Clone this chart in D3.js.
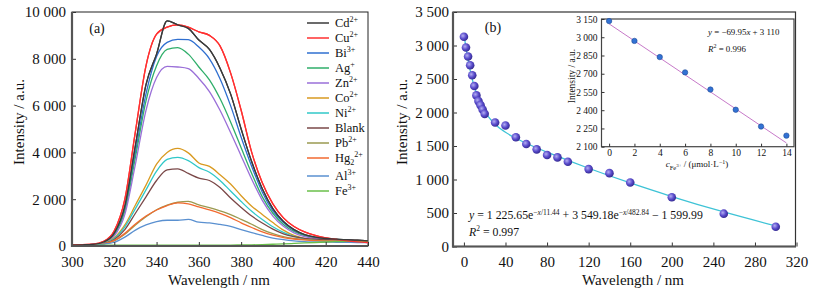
<!DOCTYPE html>
<html><head><meta charset="utf-8">
<script src="https://cdn.jsdelivr.net/npm/d3@7"></script>
<style>
body{margin:0;background:#fff}
svg{display:block}
</style>
</head><body>
<svg id="c" width="820" height="301" style="font-family:'Liberation Serif','Times New Roman','DejaVu Serif',serif"></svg>
<script>
// ---------- Panel (a) data ----------
const wavelengths = [300,305,310,315,320,325,330,335,340,345,350,355,360,365,370,375,380,385,390,395,400,405,410,415,420,425,430,435,440];
const seriesNames = ["Cd","Cu","Bi","Ag","Zn","Co","Ni","Blank","Pb","Hg","Al","Fe"];
const cd    = [40,50,70,170,550,1700,4300,6900,8200,9620,9450,9300,8800,8400,7600,6500,5000,3600,2450,1600,1050,700,490,380,320,290,270,250,220];
const cu    = [50,55,80,200,650,2000,4900,7700,9050,9350,9450,9350,9150,9000,8550,7400,5800,4000,2700,1800,1200,830,600,450,350,280,220,180,150];
const bi    = [40,50,70,160,520,1600,4000,6500,8100,8700,8830,8820,8500,8000,7150,6000,4650,3400,2300,1500,1000,670,470,360,300,270,250,230,200];
const ag    = [40,50,70,150,480,1500,3800,6200,7700,8400,8480,8200,7650,7100,6300,5300,4200,3100,2100,1400,920,620,440,340,290,260,240,220,190];
const zn    = [40,50,65,140,430,1350,3500,5800,7200,7680,7650,7580,7160,6600,5800,4850,3850,2850,1950,1280,840,560,400,320,270,245,225,205,185];
const co    = [40,45,60,120,350,900,1750,2600,3500,4000,4170,3980,3550,3400,3050,2650,2150,1700,1350,1000,680,450,320,260,220,200,180,170,160];
const ni    = [40,45,60,115,320,820,1600,2400,3200,3700,3790,3650,3350,3150,2800,2350,1900,1480,1130,820,580,410,310,250,215,195,180,170,160];
const blank = [40,45,55,100,280,700,1400,2100,2800,3250,3300,3100,2900,2800,2500,2050,1650,1280,980,720,520,400,330,290,270,260,250,240,220];
const pb    = [40,45,55,90,220,500,900,1250,1550,1750,1870,1910,1760,1640,1500,1340,1140,930,700,530,400,320,270,240,220,210,200,190,180];
const hg    = [40,45,55,95,240,540,940,1280,1540,1730,1840,1800,1670,1540,1390,1210,990,790,600,460,360,300,260,230,210,200,190,180,170];
const al    = [40,45,50,80,160,380,680,900,1040,1100,1100,1140,1020,990,920,840,700,570,450,340,270,220,190,175,165,160,155,150,140];
const fe    = [40,40,40,40,40,40,40,40,40,40,40,40,40,40,40,40,45,50,60,75,90,110,130,150,170,185,195,200,210];
const seriesValues = [cd,cu,bi,ag,zn,co,ni,blank,pb,hg,al,fe];
const seriesColors = ["#3a3a3a","#ff3030","#2f6fd0","#2fae6a","#9a6fd8","#d99a20","#30c8c8","#7a4848","#9a9a50","#f26a30","#5a90d0","#6abf4a"];
const legendBase = ["Cd","Cu","Bi","Ag","Zn","Co","Ni","Blank","Pb","Hg","Al","Fe"];
const legendSub  = ["","","","","","","","","","2","",""];
const legendSup  = ["2+","2+","3+","+","2+","2+","2+","","2+","2+","3+","3+"];
const xTicksA = [300,320,340,360,380,400,420,440];
const yTicksA = [0,2000,4000,6000,8000,10000];

// ---------- Panel (b) data ----------
const concX = [0,2,4,6,8,10,12,14,16,18,20,30,40,50,60,70,80,90,100,120,140,160,200,250,300];
const intensityY = [3130,2970,2835,2705,2555,2395,2255,2170,2110,2045,1980,1850,1805,1630,1530,1450,1365,1330,1265,1155,1095,955,735,490,295];
const fitX = [0,1,2,3,5,7,10,12,15,20,25,30,40,50,60,80,100,120,140,160,200,250,300];
const fitY = [3175,3065,2964,2870,2704,2563,2388,2291,2171,2019,1908,1824,1704,1616,1541,1408,1286,1168,1056,948,746,515,307];
const xTicksB = [0,40,80,120,160,200,240,280,320];
const yTicksB = [0,500,1000,1500,2000,2500,3000,3500];

// ---------- Inset data ----------
const insetX = [0,2,4,6,8,10,12,14];
const insetY = [3133,2970,2837,2711,2570,2404,2266,2191];
const insetLineX = [0,14];
const insetLineY = [3110,2131];
const xTicksI = [0,2,4,6,8,10,12,14];
const yTicksI = [2100,2250,2400,2550,2700,2850,3000,3150];

const FONT = "'Liberation Serif','Times New Roman','DejaVu Serif',serif";
const fmt = d => d3.format(",")(d).replace(/,/g," ");
const svg = d3.select("#c");

function rich(t, parts, size){
  let cur = 0;
  parts.forEach(p=>{
    const off = p.off||0;
    const ts = t.append("tspan").text(p.t).attr("dy", off-cur)
      .style("font-size", (p.fs||size)+"px");
    if(p.it) ts.style("font-style","italic");
    cur = off;
  });
}

function styleAxis(g, fs){
  g.attr("font-family", null).attr("font-size", null);
  g.select(".domain").remove();
  g.selectAll(".tick line").attr("stroke","#333").attr("stroke-width",1);
  g.selectAll(".tick text").style("font-size",fs+"px").attr("fill","#111");
}

// ================= Panel A =================
const xA = d3.scaleLinear().domain([300,440]).range([72,368]);
const yA = d3.scaleLinear().domain([0,10000]).range([246,12]);

svg.append("rect").attr("x",72).attr("y",12).attr("width",296).attr("height",234)
  .attr("fill","none").attr("stroke","#222").attr("stroke-width",1);

const lineA = d3.line().x((d,i)=>xA(wavelengths[i])).y(d=>yA(d)).curve(d3.curveMonotoneX);
const gA = svg.append("g");
seriesValues.forEach((vals,k)=>{
  gA.append("path").datum(vals).attr("d",lineA).attr("fill","none")
    .attr("stroke",seriesColors[k]).attr("stroke-width",1.3);
});
[1,0].forEach(k=>{
  gA.append("path").datum(seriesValues[k]).attr("d",lineA).attr("fill","none")
    .attr("stroke",seriesColors[k]).attr("stroke-width",1.3);
});

const axA_x = svg.append("g").attr("transform","translate(0,246)")
  .call(d3.axisBottom(xA).tickValues(xTicksA).tickSizeInner(-4).tickSizeOuter(0).tickPadding(10));
styleAxis(axA_x,15);
const axA_y = svg.append("g").attr("transform","translate(72,0)")
  .call(d3.axisLeft(yA).tickValues(yTicksA).tickFormat(fmt).tickSizeInner(-4).tickSizeOuter(0).tickPadding(6));
styleAxis(axA_y,15);
svg.append("line").attr("x1",72).attr("x2",72).attr("y1",12).attr("y2",247).attr("stroke","#555").attr("stroke-width",2.2);
svg.append("line").attr("x1",71).attr("x2",368).attr("y1",246).attr("y2",246).attr("stroke","#555").attr("stroke-width",2.2);

svg.append("text").attr("x",97).attr("y",33).attr("text-anchor","middle").style("font-size","14px").text("(a)");
svg.append("text").attr("transform","translate(24,122) rotate(-90)").attr("text-anchor","middle").style("font-size","15px").text("Intensity / a.u.");
svg.append("text").attr("x",219).attr("y",285).attr("text-anchor","middle").style("font-size","15px").text("Wavelength / nm");

// legend
const legY = [23,38,53,68,83,98,113,128,143,158,176,191];
legendBase.forEach((b,k)=>{
  const y = legY[k];
  svg.append("line").attr("x1",307).attr("x2",329).attr("y1",y).attr("y2",y)
    .attr("stroke",seriesColors[k]).attr("stroke-width",1.5);
  const t = svg.append("text").attr("x",335).attr("y",y+4.2).style("font-size","12.5px");
  const parts = [{t:b}];
  if(legendSub[k]) parts.push({t:legendSub[k], off:2.5, fs:8});
  if(legendSup[k]) parts.push({t:legendSup[k], off:-5, fs:8});
  rich(t, parts, 12.5);
});

// ================= Panel B =================
const xB = d3.scaleLinear().domain([-10.5,319]).range([453,795.5]);
const yB = d3.scaleLinear().domain([0,3500]).range([246.5,12]);

svg.append("rect").attr("x",453).attr("y",12).attr("width",342.5).attr("height",234.5)
  .attr("fill","none").attr("stroke","#333").attr("stroke-width",1.2);

const axB_x = svg.append("g").attr("transform","translate(0,246.5)")
  .call(d3.axisBottom(xB).tickValues(xTicksB).tickSizeInner(-4).tickSizeOuter(0).tickPadding(10));
styleAxis(axB_x,15);
const axB_y = svg.append("g").attr("transform","translate(453,0)")
  .call(d3.axisLeft(yB).tickValues(yTicksB).tickFormat(fmt).tickSizeInner(-4).tickSizeOuter(0).tickPadding(4));
styleAxis(axB_y,15);
svg.append("line").attr("x1",453).attr("x2",453).attr("y1",12).attr("y2",247.5).attr("stroke","#555").attr("stroke-width",2.2);
svg.append("line").attr("x1",452).attr("x2",796).attr("y1",246.5).attr("y2",246.5).attr("stroke","#555").attr("stroke-width",2.2);

const defs = svg.append("defs");
const grad = defs.append("radialGradient").attr("id","ball").attr("cx","38%").attr("cy","38%").attr("r","65%");
grad.append("stop").attr("offset","0%").attr("stop-color","#b4aef2");
grad.append("stop").attr("offset","55%").attr("stop-color","#5a4ccc");
grad.append("stop").attr("offset","100%").attr("stop-color","#33298f");

const lineB = d3.line().x((d,i)=>xB(fitX[i])).y(d=>yB(d)).curve(d3.curveMonotoneX);
svg.append("path").datum(fitY).attr("d",lineB).attr("fill","none").attr("stroke","#3ec3d6").attr("stroke-width",1.3);
svg.append("g").selectAll("circle").data(intensityY).join("circle")
  .attr("cx",(d,i)=>xB(concX[i])).attr("cy",d=>yB(d)).attr("r",4.3).attr("fill","url(#ball)");

svg.append("text").attr("x",493).attr("y",32).attr("text-anchor","middle").style("font-size","14px").text("(b)");
svg.append("text").attr("transform","translate(407,122) rotate(-90)").attr("text-anchor","middle").style("font-size","15px").text("Intensity / a.u.");
svg.append("text").attr("x",633).attr("y",285).attr("text-anchor","middle").style("font-size","15px").text("Wavelength / nm");

const eq = svg.append("text").attr("x",469).attr("y",219);
rich(eq,[
  {t:"y",it:true},{t:" = 1 225.65e"},
  {t:"−",off:-4.5,fs:7.5},{t:"x",off:-4.5,fs:7.5,it:true},{t:"/11.44",off:-4.5,fs:7.5},
  {t:" + 3 549.18e"},
  {t:"−",off:-4.5,fs:7.5},{t:"x",off:-4.5,fs:7.5,it:true},{t:"/482.84",off:-4.5,fs:7.5},
  {t:" − 1 599.99"}
],11.8);
const r2 = svg.append("text").attr("x",469).attr("y",235.5);
rich(r2,[{t:"R",it:true},{t:"2",off:-4.5,fs:7.5},{t:" = 0.997"}],11.8);

// ================= Inset =================
const xI = d3.scaleLinear().domain([-0.6,14.6]).range([601.5,794]);
const yI = d3.scaleLinear().domain([2100,3150]).range([146.7,19]);
svg.append("rect").attr("x",601.5).attr("y",19).attr("width",192.5).attr("height",127.7)
  .attr("fill","#fff").attr("stroke","#444").attr("stroke-width",1.2);
const axI_x = svg.append("g").attr("transform","translate(0,146.7)")
  .call(d3.axisBottom(xI).tickValues(xTicksI).tickSizeInner(-3).tickSizeOuter(0).tickPadding(3));
styleAxis(axI_x,9.5);
const axI_y = svg.append("g").attr("transform","translate(601.5,0)")
  .call(d3.axisLeft(yI).tickValues(yTicksI).tickFormat(fmt).tickSizeInner(-3).tickSizeOuter(0).tickPadding(4));
styleAxis(axI_y,9.5);

const lineI = d3.line().x((d,i)=>xI(insetLineX[i])).y(d=>yI(d));
svg.append("path").datum(insetLineY).attr("d",lineI).attr("fill","none").attr("stroke","#c77ac9").attr("stroke-width",1);
svg.append("g").selectAll("circle").data(insetY).join("circle")
  .attr("cx",(d,i)=>xI(insetX[i])).attr("cy",d=>yI(d)).attr("r",2.7)
  .attr("fill","#3272d4").attr("stroke","#1f4a95").attr("stroke-width",0.6);

svg.append("text").attr("transform","translate(575,76) rotate(-90)").attr("text-anchor","middle").style("font-size","9.5px").text("Intensity / a.u.");
const cx = svg.append("text").attr("x",697).attr("y",167).attr("text-anchor","middle");
rich(cx,[{t:"c",it:true},{t:"Fe",off:2.5,fs:6.5},{t:"3+",off:0,fs:5},{t:" / (μmol·L"},{t:"−1",off:-3.5,fs:6},{t:")",off:0}],9);

const ie = svg.append("text").attr("x",708).attr("y",34.5);
rich(ie,[{t:"y",it:true},{t:" = −69.95"},{t:"x",it:true},{t:" + 3 110"}],8.9);
const ir = svg.append("text").attr("x",708).attr("y",51.5);
rich(ir,[{t:"R",it:true},{t:"2",off:-3.5,fs:6},{t:" = 0.996",off:0}],8.9);

svg.selectAll("text").style("font-family", FONT).style("fill","#111");
</script>
</body></html>
